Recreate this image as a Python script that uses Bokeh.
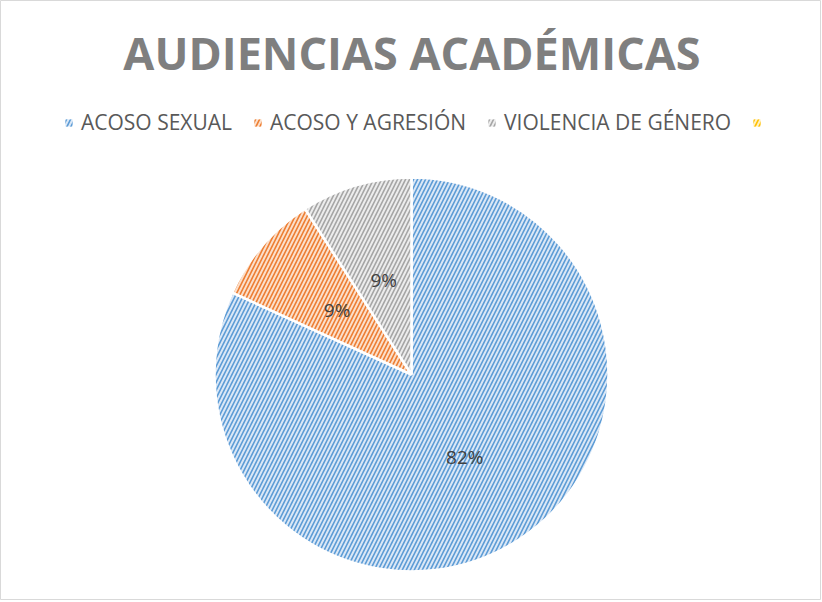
import math
from bokeh.plotting import figure
from bokeh.models import ColumnDataSource, Legend, LegendItem, Range1d
from bokeh.core.properties import value
from bokeh.embed import file_html
from bokeh.resources import INLINE

# ---- data ----
categories = ["ACOSO SEXUAL", "ACOSO Y AGRESIÓN", "VIOLENCIA DE GÉNERO", ""]
counts = [9, 1, 1, 0]
fill_colors = ["#dae7f6", "#fbdfca", "#ececec", "#fff0c0"]
hatch_colors = ["#5b9bd5", "#ed7d31", "#a5a5a5", "#ffc000"]
title_text = "AUDIENCIAS ACADÉMICAS"

# ---- layout (figure pixel units) ----
W, H = 821, 600
cx, cy, R = 411, 226, 197

total = sum(counts)
starts, ends, lx, ly, labels = [], [], [], [], []
cum = 0.0
for c in counts:
    f0 = cum / total
    f1 = (cum + c) / total
    cum += c
    # clockwise from 12 o'clock
    starts.append(math.pi / 2 - 2 * math.pi * f1)
    ends.append(math.pi / 2 - 2 * math.pi * f0)
    mid = 2 * math.pi * (f0 + f1) / 2
    lx.append(cx + 0.5 * R * math.sin(mid))
    ly.append(cy + 0.5 * R * math.cos(mid))
    labels.append(f"{round(100 * c / total)}%" if c > 0 else "")

p = figure(width=W, height=H, output_backend="svg", toolbar_location=None,
           x_range=Range1d(0, W), y_range=Range1d(0, H),
           min_border=0, background_fill_color="white")
p.axis.visible = False
p.grid.visible = False
p.outline_line_color = "#d9d9d9"
p.outline_line_width = 1

items = []
for i in range(len(counts)):
    style = dict(fill_color=fill_colors[i], hatch_pattern="/", hatch_color=hatch_colors[i],
                 hatch_scale=8, hatch_weight=1.6)
    if counts[i] > 0:
        src = ColumnDataSource(dict(x=[cx], y=[cy], s=[starts[i]], e=[ends[i]]))
        p.wedge(x="x", y="y", radius=R, start_angle="s", end_angle="e", source=src,
                line_color="white", line_width=2.5, **style)
    # legend swatch renderer (zero-area)
    key = p.quad(left=[cx], right=[cx], top=[cy], bottom=[cy], line_color=None, **style)
    items.append(LegendItem(label=categories[i], renderers=[key]))

lsrc = ColumnDataSource(dict(x=lx, y=ly, t=labels))
p.text(x="x", y="y", text="t", source=lsrc, text_align="center", text_baseline="middle",
       text_font=value("Open Sans"), text_font_size="19px", text_color="#404040")

# title
p.text(x=[W / 2 + 1], y=[H - 52], text=[title_text], text_align="center", text_baseline="middle",
       text_font=value("Open Sans"), text_font_style="bold", text_font_size="45px",
       text_color="#7f7f7f")

legend = Legend(items=items, orientation="horizontal", location=(64, H - 136),
                label_text_font="Open Sans", label_text_font_size="21px",
                label_text_color="#595959", glyph_width=9, glyph_height=9,
                label_standoff=8, spacing=21, padding=0, margin=0,
                border_line_color=None, background_fill_alpha=0)
p.add_layout(legend, "center")

open("out.html", "w").write(file_html(p, INLINE))
